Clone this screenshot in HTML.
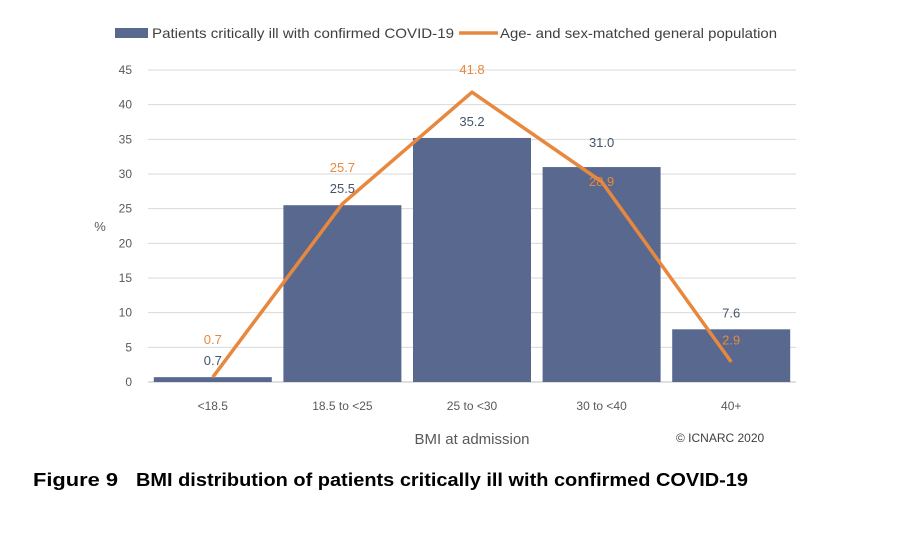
<!DOCTYPE html>
<html><head><meta charset="utf-8"><style>
body{margin:0;background:#fff;width:899px;height:530px;overflow:hidden}
text{font-family:"Liberation Sans",sans-serif}
</style></head><body>
<svg id="c" width="899" height="530"></svg>
<script>
const categories=["<18.5","18.5 to <25","25 to <30","30 to <40","40+"];
const patients=[0.7,25.5,35.2,31.0,7.6];
const population=[0.7,25.7,41.8,28.9,2.9];
const yTicks=[0,5,10,15,20,25,30,35,40,45];
const svg=document.getElementById('c');
const NS='http://www.w3.org/2000/svg';
const L=148,R=796,T=70,B=382,YMAX=45;
const y=v=>B-(v/YMAX)*(B-T);
const bw=(R-L)/categories.length;
const xc=i=>L+bw*(i+0.5);
function mk(tag,a,txt){const e=document.createElementNS(NS,tag);for(const k in a)e.setAttribute(k,a[k]);if(txt!==undefined)e.textContent=txt;svg.appendChild(e);return e;}
yTicks.forEach(t=>{
 const g=mk('line',{x1:L,x2:R,y1:y(t),y2:y(t),stroke:t?'#d9d9d9':'#bfbfbf','stroke-width':1});
 
 
 const l=mk('text',{x:132,y:y(t)+4,'text-anchor':'end','font-size':12,fill:'#595959'},t);
 
 
});
const yt=mk('text',{x:100,y:231,'text-anchor':'middle','font-size':13,fill:'#595959'},'%');


categories.forEach((c,i)=>{
 const b=mk('rect',{x:xc(i)-59,y:y(patients[i]),width:118,height:B-y(patients[i]),fill:'#58688f'});
 
 
 const cl=mk('text',{x:xc(i),y:410,'text-anchor':'middle','font-size':12,fill:'#595959'},c);
 
 
});
let d='';population.forEach((v,i)=>{d+=(i?'L':'M')+xc(i)+','+y(v);});
const ln=mk('path',{d:d,fill:'none',stroke:'#e8883e','stroke-width':3.5,'stroke-linejoin':'round'});


categories.forEach((c,i)=>{
 let by=y(patients[i])-16;
 let oy;
 if(population[i]>=patients[i]) oy=Math.min(y(population[i])-22,by-21);
 else if(patients[i]-population[i]<4){ by=y(patients[i])-24; oy=by+39; }
 else oy=by+27;
 const bl=mk('text',{x:xc(i),y:by+4,'text-anchor':'middle','font-size':13,fill:'#44546a'},patients[i].toFixed(1));
 
 
 const ol=mk('text',{x:xc(i),y:oy+4,'text-anchor':'middle','font-size':13,fill:'#e8883e'},population[i].toFixed(1));
 
 
});
</script>
<svg width="899" height="530" style="position:absolute;left:0;top:0">
<rect x="115" y="28" width="33" height="10" fill="#58688f"/>
<text x="152" y="38" font-size="14" fill="#404040" textLength="302" lengthAdjust="spacingAndGlyphs">Patients critically ill with confirmed COVID-19</text>
<line x1="459" y1="33" x2="498" y2="33" stroke="#e8883e" stroke-width="3.5"/>
<text x="500" y="38" font-size="14" fill="#404040" textLength="277" lengthAdjust="spacingAndGlyphs">Age- and sex-matched general population</text>
<text x="472" y="444" text-anchor="middle" font-size="15" fill="#595959">BMI at admission</text>
<text x="676" y="442" font-size="12" fill="#404040">© ICNARC 2020</text>
<text x="33" y="486" font-size="18" font-weight="bold" fill="#000"><tspan textLength="85" lengthAdjust="spacingAndGlyphs">Figure 9</tspan><tspan x="136" textLength="612" lengthAdjust="spacingAndGlyphs">BMI distribution of patients critically ill with confirmed COVID-19</tspan></text>
</svg>
</body></html>
